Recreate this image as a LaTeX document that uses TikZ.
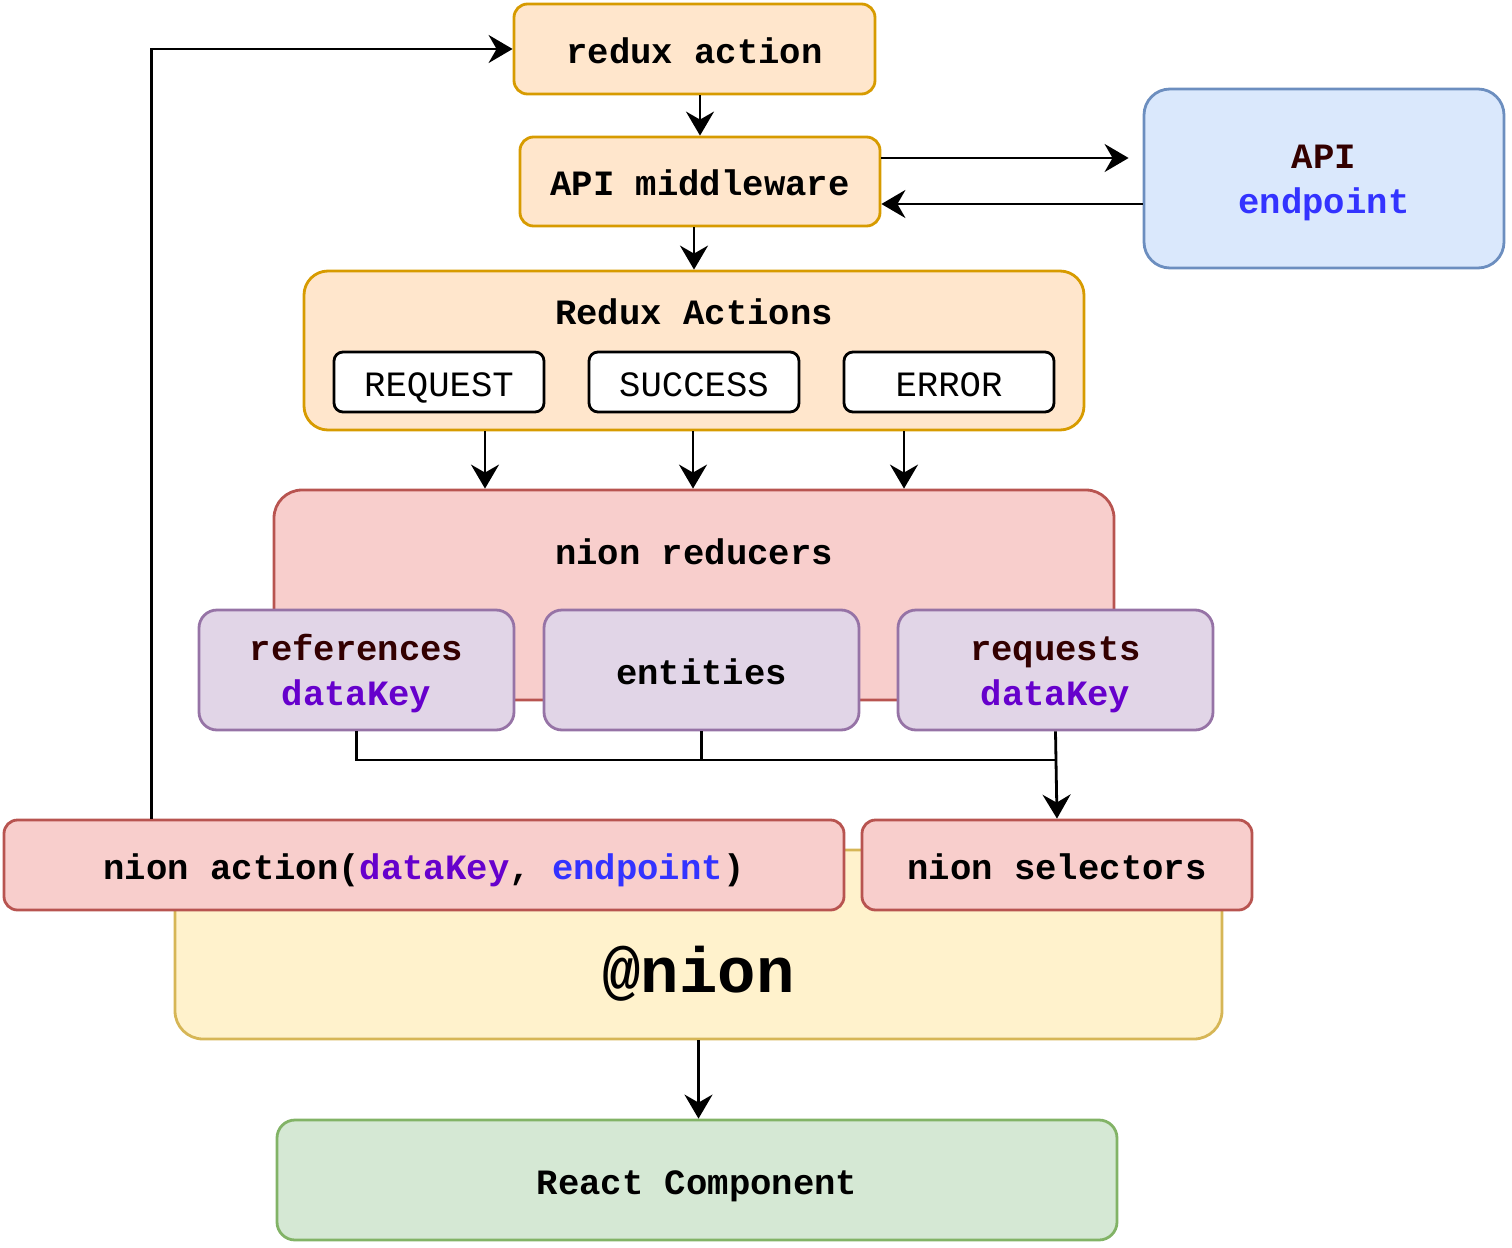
\documentclass[tikz,border=0pt]{standalone}
\usepackage{fontspec}
\setmonofont{Liberation Mono}
\usetikzlibrary{arrows.meta,positioning}
\definecolor{orfill}{HTML}{FFE6CC}\definecolor{ordraw}{HTML}{D79B00}
\definecolor{blfill}{HTML}{DAE8FC}\definecolor{bldraw}{HTML}{6C8EBF}
\definecolor{rdfill}{HTML}{F8CECC}\definecolor{rddraw}{HTML}{B85450}
\definecolor{pufill}{HTML}{E1D5E7}\definecolor{pudraw}{HTML}{9673A6}
\definecolor{yefill}{HTML}{FFF2CC}\definecolor{yedraw}{HTML}{D6B656}
\definecolor{grfill}{HTML}{D5E8D4}\definecolor{grdraw}{HTML}{82B366}
\definecolor{keyred}{HTML}{330000}
\definecolor{keypurple}{HTML}{6600CC}
\definecolor{keyblue}{HTML}{3333FF}
\newcommand{\lab}{\ttfamily\bfseries\fontsize{17.8}{22.5}\selectfont}
\newcommand{\ls}{\rule[-3pt]{0pt}{19.5pt}}

\begin{document}
\begin{tikzpicture}[x=0.5pt,y=-0.5pt,
  box/.style={draw, line width=1.4pt, rounded corners=6.75pt, inner sep=0pt, font=\lab, align=center,
    text height=14.3pt, text depth=0pt},
  twoline/.style={text height={}, text depth={}},
  orangebox/.style={box, fill=orfill, draw=ordraw},
  redbox/.style={box, fill=rdfill, draw=rddraw},
  purplebox/.style={box, fill=pufill, draw=pudraw, rounded corners=9pt, minimum width=157.5pt, minimum height=60pt},
  typebox/.style={box, fill=white, draw=black, rounded corners=4.5pt, minimum width=105pt, minimum height=30pt,
    font=\ttfamily\fontsize{17.8}{20}\selectfont},
  title/.style={font=\lab, text height=14.3pt, text depth=0pt, inner sep=0pt},
  line/.style={line width=1.4pt},
  arr/.style={line, -{Stealth[length=12pt,width=14pt,inset=4pt]}}]
\useasboundingbox (0,0) rectangle (1512,1248);
% Top of the flow
\node[orangebox, minimum width=180.5pt, minimum height=45pt] (reduxaction) at (694.5,49) {redux action};
\node[orangebox, minimum width=180pt, minimum height=44.5pt] (middleware) at (700,181.5) {API middleware};
\node[box, twoline, fill=blfill, draw=bldraw, rounded corners=13pt, minimum width=180pt, minimum height=89.5pt] (endpoint)
  at (1324,178.5) {\ls\textcolor{keyred}{API}\\\ls\textcolor{keyblue}{endpoint}};
% Redux actions
\node[orangebox, rounded corners=12pt, minimum width=390pt, minimum height=79.5pt] (actions) at (694,350.5) {};
\node[title] (actionstitle) at (694,310) {Redux Actions};
\foreach \name/\x/\txt in {request/439/REQUEST, success/694/SUCCESS, error/949/ERROR}
  \node[typebox] (\name) at (\x,382) {\txt};
% Reducers
\node[redbox, rounded corners=14pt, minimum width=420pt, minimum height=105pt] (reducers) at (694,595) {};
\node[title] (reducerstitle) at (694,550) {nion reducers};
\node[purplebox, twoline] (references) at (356.5,670) {\ls\textcolor{keyred}{references}\\\ls\textcolor{keypurple}{dataKey}};
\node[purplebox] (entities) at (701.5,670) {entities};
\node[purplebox, twoline] (requests) at (1055.5,670) {\ls\textcolor{keyred}{requests}\\\ls\textcolor{keypurple}{dataKey}};
% @nion
\node[box, fill=yefill, draw=yedraw, rounded corners=14pt, minimum width=523.5pt, minimum height=94.5pt] (nion)
  at (698.5,944.5) {};
\node[title, font=\ttfamily\bfseries\fontsize{32}{36}\selectfont, text height=24pt] (niontitle) at (698.5,968) {@nion};
\node[redbox, minimum width=420pt, minimum height=45pt] (nionaction) at (424,865)
  {nion action(\textcolor{keypurple}{dataKey}, \textcolor{keyblue}{endpoint})};
\node[redbox, minimum width=195pt, minimum height=45pt] (selectors) at (1057,865) {nion selectors};
\node[box, fill=grfill, draw=grdraw, rounded corners=9pt, minimum width=420pt, minimum height=60pt] (react)
  at (697,1180) {React Component};
% Connectors
\coordinate (bus) at (0,760);
\draw[arr] ([xshift=74.5pt]nionaction.north west) |- (reduxaction.west);
\draw[arr] (reduxaction.south -| middleware.north) -- (middleware.north);
\draw[arr, shorten >=7pt] ([yshift=11.75pt]middleware.east) -- ([yshift=11.75pt]middleware.east -| endpoint.west);
\draw[arr] ([yshift=-11.25pt]middleware.east -| endpoint.west) -- ([yshift=-11.25pt]middleware.east);
\draw[arr] (middleware.south -| actions.north) -- (actions.north);
\foreach \dx in {-104.5,-0.5,105}
  \draw[arr] ([xshift=\dx pt]actions.south) -- ([xshift=\dx pt]actions.south |- reducers.north);
\draw[line] (references.south) -- (references.south |- bus) -- (bus -| selectors.north);
\draw[line] (entities.south) -- (entities.south |- bus);
\draw[arr] (requests.south) -- (selectors.north);
\draw[arr] (nion.south) -- (nion.south |- react.north);
\end{tikzpicture}
\end{document}
